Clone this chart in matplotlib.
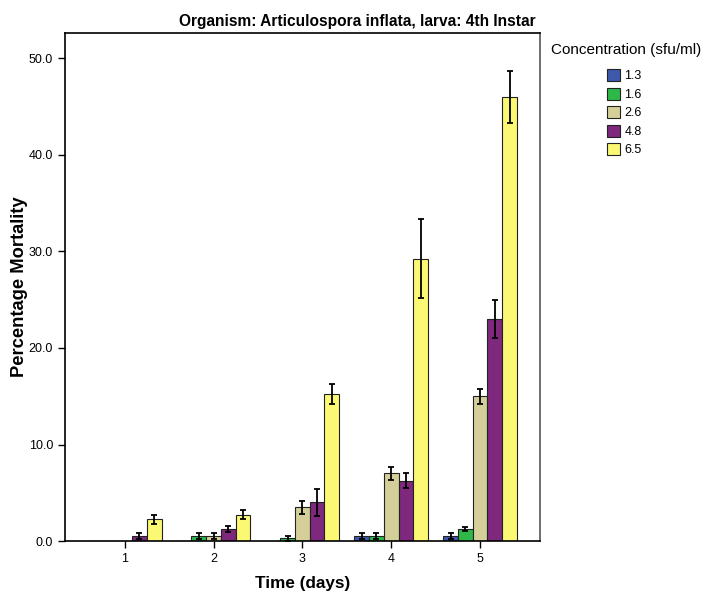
import numpy as np
import matplotlib
matplotlib.use("Agg")
import matplotlib.pyplot as plt

plt.rcParams['font.family'] = ['Liberation Sans', 'DejaVu Sans']

days = [1, 2, 3, 4, 5]
concs = ['1.3', '1.6', '2.6', '4.8', '6.5']
colors = ['#3e58ac', '#2eb848', '#d4cf98', '#7e287e', '#fbf874']

# mean percentage mortality per concentration (rows) and day (cols)
m13 = [0.0, 0.0, 0.0, 0.5, 0.5]
m16 = [0.0, 0.5, 0.27, 0.5, 1.25]
m26 = [0.0, 0.5, 3.5, 7.0, 15.0]
m48 = [0.5, 1.25, 4.0, 6.27, 23.0]
m65 = [2.24, 2.75, 15.25, 29.25, 46.0]

# error bar half-widths
e13 = [0.0, 0.0, 0.0, 0.3, 0.3]
e16 = [0.0, 0.3, 0.25, 0.3, 0.25]
e26 = [0.0, 0.3, 0.67, 0.67, 0.8]
e48 = [0.3, 0.27, 1.43, 0.76, 1.94]
e65 = [0.5, 0.5, 1.04, 4.08, 2.73]

means = [m13, m16, m26, m48, m65]
errs = [e13, e16, e26, e48, e65]

fig = plt.figure(figsize=(7.04, 5.92), dpi=100)
ax = fig.add_axes([0.092, 0.086, 0.675, 0.858])

w = 0.166
x = np.array(days, dtype=float)
for i in range(len(concs)):
    pos = x + (i - 2) * w
    ax.bar(pos, means[i], width=w, color=colors[i], edgecolor='#222222',
           linewidth=0.8, label=concs[i], zorder=2)
    ev = np.array(errs[i])
    mask = ev > 0
    ax.errorbar(pos[mask], np.array(means[i])[mask], yerr=ev[mask], fmt='none',
                ecolor='black', elinewidth=1.3, capsize=2.5, capthick=1.3, zorder=3)

ax.set_xlim(0.325, 5.675)
ax.set_ylim(0, 52.6)
ax.set_xticks(days)
ax.set_xticklabels([str(d) for d in days])
ax.set_yticks([0, 10, 20, 30, 40, 50])
ax.set_yticklabels(['0.0', '10.0', '20.0', '30.0', '40.0', '50.0'])
ax.tick_params(axis='both', direction='out', length=5, width=1, labelsize=9, colors='black')
for s in ax.spines.values():
    s.set_linewidth(1.2)
ax.spines['right'].set_color('#555555')

ax.set_xlabel('Time (days)', fontsize=12.3, fontweight='bold', labelpad=8)
ax.set_ylabel('Percentage Mortality', fontsize=13.2, fontweight='bold')
ax.yaxis.set_label_coords(-0.078, 0.5)

fig.text(0.507, 0.951, 'Organism: Articulospora inflata, larva: 4th Instar',
         ha='center', va='bottom', fontsize=11.2, fontweight='bold')

# legend title placed separately, centred over the entries
fig.text(626 / 704, 1 - 50 / 592, 'Concentration (sfu/ml)', ha='center', va='center',
         fontsize=11)
leg = ax.legend(loc='upper left', bbox_to_anchor=(607 / 704, 1 - 69 / 592),
                bbox_transform=fig.transFigure, frameon=False, fontsize=9,
                handlelength=1.0, handleheight=1.1, handletextpad=0.4,
                labelspacing=0.42, borderpad=0, borderaxespad=0)

fig.savefig('out.png', dpi=100)
